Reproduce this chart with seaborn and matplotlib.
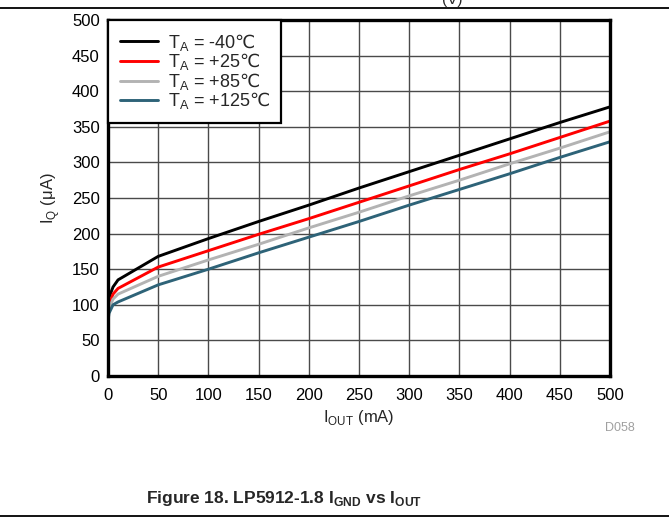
import matplotlib
matplotlib.use("Agg")
import matplotlib.pyplot as plt
import seaborn as sns
import pandas as pd
from matplotlib.lines import Line2D

# data
i_out = [0, 1, 5, 10, 50, 100, 150, 200, 250, 300, 350, 400, 450, 500]
iq_m40 = [95, 110, 125, 135, 168, 193, 217, 240, 264, 287, 310, 333, 356, 378]
iq_p25 = [90, 100, 115, 123, 153, 176, 199, 221, 244, 267, 290, 312, 335, 358]
iq_p85 = [85, 95, 108, 115, 140, 163, 185, 208, 230, 253, 275, 298, 320, 343]
iq_p125 = [77, 88, 100, 104, 128, 150, 173, 195, 217, 240, 262, 284, 307, 329]
labels = [r"T$_\mathregular{A}$ = -40$\mathsf{℃}$", r"T$_\mathregular{A}$ = +25$\mathsf{℃}$",
          r"T$_\mathregular{A}$ = +85$\mathsf{℃}$", r"T$_\mathregular{A}$ = +125$\mathsf{℃}$"]
colors = ["#000000", "#ff0000", "#b3b3b3", "#2e6378"]
ticks = [0, 50, 100, 150, 200, 250, 300, 350, 400, 450, 500]

sns.set_style("white")
plt.rcParams['font.family'] = ['Liberation Sans', 'DejaVu Sans']
plt.rcParams['mathtext.fontset'] = 'custom'
plt.rcParams['mathtext.rm'] = 'Liberation Sans'
plt.rcParams['mathtext.bf'] = 'Liberation Sans:bold'
plt.rcParams['mathtext.sf'] = 'DejaVu Sans'

rows = []
for lab, vals in zip(labels, [iq_m40, iq_p25, iq_p85, iq_p125]):
    for x, y in zip(i_out, vals):
        rows.append({'IOUT': x, 'IQ': y, 'T': lab})
df = pd.DataFrame(rows)

fig = plt.figure(figsize=(6.69, 5.18), dpi=100)
ax = fig.add_axes([108 / 669, 1 - 376 / 518, 502 / 669, 356 / 518])

sns.lineplot(data=df, x='IOUT', y='IQ', hue='T', palette=colors,
             linewidth=2.1, ax=ax, zorder=3)

ax.set_xlim(0, 500)
ax.set_ylim(0, 500)
ax.set_xticks(ticks)
ax.set_yticks(ticks)
ax.tick_params(axis='both', length=0, labelsize=12, colors='black')
ax.tick_params(axis='x', pad=9)
ax.tick_params(axis='y', pad=6)
ax.grid(True, color='#4a4a4a', linewidth=1.0)
for s in ax.spines.values():
    s.set_linewidth(2.4)
    s.set_color('black')
    s.set_zorder(5)

ax.set_xlabel(r"I$_\mathregular{OUT}$ (mA)", fontsize=12, labelpad=3)
ax.set_ylabel(r"I$_\mathregular{Q}$ ($\mathregular{\mu}$A)", fontsize=12, labelpad=7)

leg = ax.legend(loc='upper left', borderaxespad=0, fancybox=False,
                framealpha=1, edgecolor='black', fontsize=13,
                handlelength=2.1, labelspacing=-0.08, borderpad=0.65,
                handletextpad=0.55, title=None)
leg.get_frame().set_linewidth(1.6)
leg.set_zorder(6)

fig.text(620 / 669, 1 - 428 / 518, "D058", fontsize=9, color='#a0a0a0',
         ha='center', va='center')
fig.text(284 / 669, 1 - 498 / 518,
         r"Figure 18. LP5912-1.8 I$_\mathbf{GND}$ vs I$_\mathbf{OUT}$",
         fontsize=12.5, fontweight='bold', ha='center', va='center')
fig.text(452 / 669, 1.0, r"(V)", fontsize=11, ha='center', va='center')

fig.add_artist(Line2D([0, 1], [1 - 8 / 518] * 2, color='black', linewidth=1.3))
fig.add_artist(Line2D([0, 1], [1 - 516 / 518] * 2, color='black', linewidth=1.3))

fig.savefig("out.png", dpi=100)
